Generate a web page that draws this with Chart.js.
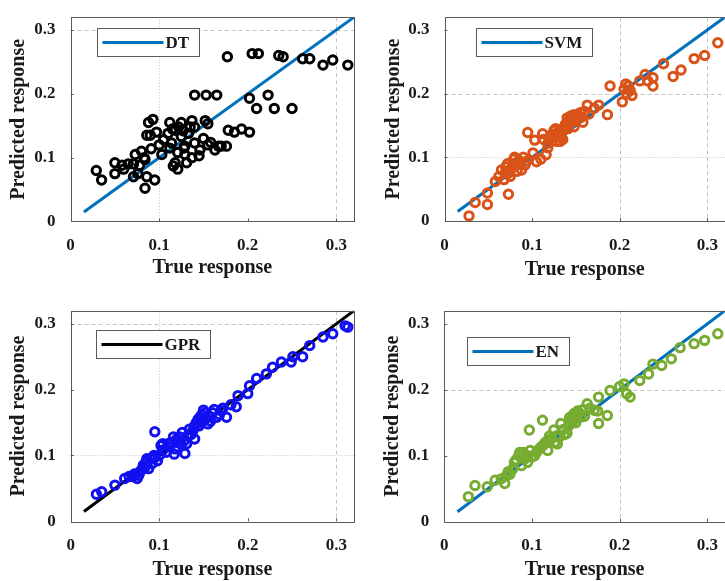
<!DOCTYPE html>
<html>
<head>
<title>True vs predicted response</title>
<script src="https://cdn.jsdelivr.net/npm/chart.js"></script>
<style>
    body {margin: 0; width: 725px; height: 581px; overflow: hidden; background: #fff; position: relative;}
    canvas {position: absolute;}
</style>
</head>
<body>
<canvas id="dt"  width="362" height="290" style="left:0px;top:0px"></canvas>
<canvas id="svm" width="370" height="290" style="left:362px;top:0px"></canvas>
<canvas id="gpr" width="362" height="291" style="left:0px;top:290px"></canvas>
<canvas id="en"  width="370" height="291" style="left:362px;top:290px"></canvas>

<script>
// tick values / labels shared by both axes of every panel
var tickValues = [0, 0.1, 0.2, 0.3];
var tickLabels = ['0', '0.1', '0.2', '0.3'];

// reference line (perfect prediction)
var diagX = [0.015, 0.32];
var diagY = [0.015, 0.32];

// DT
var dtTrue = [0.177,0.205,0.212,0.235,0.240,0.262,0.270,0.285,0.296,0.313,
    0.140,0.153,0.165,0.202,0.223,0.210,0.230,0.250,
    0.178,0.185,0.193,0.202,0.176,
    0.088,0.093,0.112,0.125,0.137,0.152,0.155,0.122,0.140,
    0.086,0.097,0.110,0.118,0.125,0.133,
    0.114,0.129,0.140,0.146,0.155,0.163,0.170,
    0.121,0.129,0.118,0.137,0.121,0.080,0.091,0.103,0.073,
    0.029,0.035,0.050,0.058,0.050,0.071,0.078,0.084,0.071,0.076,0.084,0.095,0.086,0.116,0.131,
    0.105,0.115,0.127,0.135,0.158,0.145,0.112,0.100,0.060,0.065,0.083,0.090,0.128,0.150,0.167];
var dtPred = [0.258,0.263,0.263,0.260,0.258,0.255,0.255,0.245,0.253,0.245,
    0.198,0.198,0.198,0.193,0.198,0.177,0.177,0.177,
    0.143,0.140,0.145,0.140,0.118,
    0.155,0.160,0.155,0.155,0.158,0.158,0.153,0.148,0.148,
    0.135,0.140,0.138,0.143,0.133,0.138,
    0.123,0.118,0.123,0.112,0.120,0.112,0.118,
    0.108,0.105,0.092,0.100,0.082,0.110,0.114,0.105,0.105,
    0.080,0.065,0.092,0.088,0.075,0.090,0.088,0.097,0.070,0.075,0.052,0.065,0.070,0.087,0.092,
    0.128,0.145,0.142,0.148,0.124,0.103,0.115,0.120,0.082,0.090,0.100,0.135,0.115,0.130,0.118];

// SVM
var svmTrue = [0.028,0.035,0.049,0.049,0.058,0.073,
    0.065,0.070,0.073,0.078,0.080,0.085,0.088,0.090,0.075,0.083,0.068,0.092,
    0.070,0.077,0.082,0.086,0.079,0.072,0.094,0.062,
    0.095,0.101,0.110,0.116,0.105,
    0.103,0.112,0.118,0.125,0.133,0.137,0.140,0.148,0.154,0.163,0.171,0.186,0.176,
    0.120,0.128,0.130,0.135,0.140,0.145,0.150,0.155,0.158,0.143,0.148,0.152,
    0.122,0.126,0.131,0.136,0.141,0.146,0.151,0.156,0.144,0.138,0.127,0.132,0.118,0.113,0.160,0.165,
    0.189,0.203,0.205,0.210,0.214,0.208,0.207,0.212,0.232,
    0.223,0.229,0.238,0.238,0.250,0.261,0.270,0.285,0.297,0.312];
var svmPred = [0.008,0.029,0.026,0.044,0.062,0.042,
    0.080,0.085,0.075,0.090,0.100,0.095,0.080,0.100,0.070,0.078,0.065,0.088,
    0.078,0.083,0.088,0.092,0.097,0.090,0.094,0.070,
    0.139,0.107,0.097,0.104,0.093,
    0.127,0.137,0.122,0.142,0.132,0.147,0.162,0.167,0.162,0.182,0.177,0.167,0.182,
    0.130,0.125,0.140,0.128,0.150,0.155,0.158,0.170,0.155,0.160,0.148,0.165,
    0.135,0.132,0.136,0.142,0.145,0.158,0.162,0.163,0.165,0.152,0.145,0.125,0.115,0.128,0.172,0.168,
    0.212,0.187,0.207,0.212,0.197,0.200,0.215,0.205,0.220,
    0.220,0.230,0.212,0.225,0.247,0.227,0.237,0.255,0.260,0.280];

// GPR
var gprTrue = [0.029,0.035,0.050,0.061,0.070,0.075,0.078,0.082,0.085,0.090,0.095,0.088,0.098,0.072,
    0.095,
    0.104,0.112,0.116,0.123,0.131,0.129,0.108,0.120,0.126,0.134,0.118,
    0.138,0.146,0.150,0.155,0.165,0.176,0.187,0.142,0.148,0.152,0.160,0.170,0.145,
    0.080,0.084,0.092,0.086,0.094,0.100,0.104,0.110,0.114,0.120,0.124,0.128,0.132,0.136,0.140,
    0.144,0.148,0.152,0.156,0.158,0.162,0.168,0.172,0.181,0.077,0.066,0.102,0.117,0.140,
    0.189,0.200,0.202,0.210,0.221,0.228,0.238,0.249,0.251,0.262,0.270,0.285,0.296,0.313,0.310];
var gprPred = [0.041,0.045,0.055,0.065,0.068,0.065,0.075,0.085,0.090,0.095,0.097,0.080,0.092,0.072,
    0.136,
    0.118,0.113,0.128,0.128,0.118,0.103,0.105,0.120,0.135,0.140,0.110,
    0.138,0.158,0.169,0.148,0.158,0.158,0.174,0.150,0.162,0.155,0.165,0.168,0.145,
    0.078,0.082,0.088,0.095,0.100,0.100,0.108,0.118,0.120,0.125,0.118,0.122,0.130,0.132,0.145,
    0.155,0.150,0.165,0.160,0.152,0.170,0.162,0.172,0.177,0.070,0.068,0.115,0.102,0.125,
    0.191,0.194,0.206,0.217,0.224,0.234,0.242,0.242,0.250,0.250,0.267,0.280,0.285,0.295,0.297];

// EN
var enTrue = [0.0275,0.035,0.049,0.058,0.069,0.073,0.080,0.085,0.090,0.095,0.100,0.088,0.078,0.065,0.103,
    0.097,0.112,
    0.110,0.118,0.125,0.129,0.133,0.140,0.120,0.115,0.128,
    0.148,0.156,0.163,0.171,0.176,0.186,0.176,0.145,0.152,0.160,0.150,
    0.082,0.086,0.092,0.098,0.105,0.108,0.113,0.122,0.126,0.131,0.136,0.142,0.146,0.149,0.154,
    0.158,0.143,0.137,0.166,0.175,0.118,0.075,0.071,0.095,
    0.189,0.205,0.208,0.212,0.200,
    0.223,0.233,0.238,0.248,0.259,0.269,0.285,0.297,0.312];
var enPred = [0.038,0.055,0.053,0.063,0.058,0.076,0.090,0.100,0.105,0.100,0.098,0.085,0.080,0.065,0.100,
    0.139,0.154,
    0.113,0.123,0.139,0.118,0.149,0.134,0.130,0.120,0.130,
    0.164,0.159,0.179,0.169,0.149,0.161,0.189,0.155,0.168,0.160,0.150,
    0.094,0.105,0.095,0.108,0.105,0.110,0.116,0.126,0.120,0.128,0.140,0.145,0.150,0.160,0.165,
    0.170,0.158,0.132,0.172,0.168,0.108,0.072,0.070,0.090,
    0.199,0.209,0.194,0.189,0.205,
    0.214,0.224,0.239,0.237,0.247,0.264,0.270,0.275,0.285];

function pts(xs, ys) {
    return xs.map(function(x, i) { return {x: x, y: ys[i]}; });
}

var FONT = '"Liberation Serif", "Times New Roman", serif';
var TEXT = '#1a1a1a';

// axes box, light grid lines, inward ticks and the boxed legend (MATLAB look)
var framePlugin = {
    id: 'frame',
    beforeDatasetsDraw: function(chart, args, o) {
        var ctx = chart.ctx, a = chart.chartArea;
        var sx = chart.scales.x, sy = chart.scales.y;
        ctx.save();
        ctx.strokeStyle = '#c4c4c4';
        ctx.lineWidth = 1;
        o.gridX.forEach(function(v) {
            var px = Math.round(sx.getPixelForValue(v)) + 0.5;
            ctx.setLineDash(v < 0.15 ? [1, 2] : [4, 3]);
            ctx.beginPath(); ctx.moveTo(px, a.top); ctx.lineTo(px, a.bottom); ctx.stroke();
        });
        o.gridY.forEach(function(v) {
            var py = Math.round(sy.getPixelForValue(v)) + 0.5;
            ctx.setLineDash(v < 0.15 ? [1, 2] : [4, 3]);
            ctx.beginPath(); ctx.moveTo(a.left, py); ctx.lineTo(a.right, py); ctx.stroke();
        });
        ctx.restore();
    },
    afterDatasetsDraw: function(chart, args, o) {
        var ctx = chart.ctx, a = chart.chartArea;
        var sx = chart.scales.x, sy = chart.scales.y;
        ctx.save();
        ctx.setLineDash([]);
        ctx.strokeStyle = '#5a5a5a';
        ctx.lineWidth = 1;
        ctx.strokeRect(Math.round(a.left) + 0.5, Math.round(a.top) + 0.5,
                       Math.round(a.right - a.left), Math.round(a.bottom - a.top));
        // small inward ticks
        ctx.beginPath();
        tickValues.slice(1).forEach(function(v) {
            var px = Math.round(sx.getPixelForValue(v)) + 0.5;
            ctx.moveTo(px, a.bottom); ctx.lineTo(px, a.bottom - 3);
            var py = Math.round(sy.getPixelForValue(v)) + 0.5;
            ctx.moveTo(a.left, py); ctx.lineTo(a.left + 3, py);
        });
        ctx.stroke();

        // legend
        var lg = o.legend;
        var x0 = Math.round(a.left + lg.dx) + 0.5, y0 = Math.round(a.top + lg.dy) + 0.5;
        ctx.font = 'bold 17px ' + FONT;
        var tw = ctx.measureText(lg.label).width;
        var w = Math.round(68 + tw + 10), h = 28;
        ctx.fillStyle = '#fff';
        ctx.fillRect(x0, y0, w, h);
        ctx.strokeStyle = '#5a5a5a';
        ctx.strokeRect(x0, y0, w, h);
        ctx.strokeStyle = lg.color;
        ctx.lineWidth = 3;
        ctx.beginPath(); ctx.moveTo(x0 + 5, y0 + h / 2); ctx.lineTo(x0 + 66, y0 + h / 2); ctx.stroke();
        ctx.fillStyle = TEXT;
        ctx.textBaseline = 'middle';
        ctx.fillText(lg.label, x0 + 68, y0 + h / 2 + 1);
        ctx.restore();
    }
};

function fixTicks(scale) {
    scale.ticks = tickValues.map(function(v) { return {value: v}; });
}

function panel(id, p) {
    var ctx = document.getElementById(id).getContext('2d');
    var tickFont = {family: FONT, size: 17, weight: 'bold'};
    var titleFont = {family: FONT, size: 20, weight: 'bold', lineHeight: 1};
    return new Chart(ctx, {
        type: 'scatter',
        data: {
            datasets: [
                {
                    label: p.name + ' points',
                    data: pts(p.xs, p.ys),
                    pointStyle: 'circle',
                    pointRadius: 4.2,
                    borderWidth: 3,
                    borderColor: p.color,
                    backgroundColor: 'rgba(0,0,0,0)',
                    order: 0
                },
                {
                    type: 'line',
                    label: p.name,
                    data: pts(diagX, diagY),
                    borderColor: p.lineColor,
                    borderWidth: 3,
                    pointRadius: 0,
                    fill: false,
                    order: 1
                }
            ]
        },
        options: {
            responsive: false,
            animation: false,
            layout: {padding: {top: p.top, right: p.right, left: 0, bottom: 0}},
            plugins: {
                legend: {display: false},
                tooltip: {enabled: false},
                frame: {
                    gridX: p.gridX, gridY: p.gridY,
                    legend: {dx: p.lgx, dy: p.lgy, label: p.name, color: p.lineColor}
                }
            },
            scales: {
                x: {
                    type: 'linear', min: 0, max: 0.32,
                    grid: {display: false}, border: {display: false},
                    afterBuildTicks: fixTicks,
                    afterFit: function(s) { s.height = p.xh; },
                    ticks: {
                        padding: 6, color: TEXT, font: tickFont, maxRotation: 0,
                        callback: function(v, i) { return tickLabels[i]; }
                    },
                    title: {display: true, text: 'True response', color: TEXT, font: titleFont,
                            padding: {top: 0, bottom: p.xtp}}
                },
                y: {
                    type: 'linear', min: 0, max: 0.32,
                    grid: {display: false}, border: {display: false},
                    afterBuildTicks: fixTicks,
                    afterFit: function(s) { s.width = p.yw; },
                    ticks: {
                        padding: 7, color: TEXT, font: tickFont,
                        callback: function(v, i) { return tickLabels[i]; }
                    },
                    title: {display: true, text: 'Predicted response', color: TEXT, font: titleFont,
                            padding: {top: p.ytp, bottom: 0}}
                }
            }
        },
        plugins: [framePlugin]
    });
}

panel('dt', {name: 'DT', xs: dtTrue, ys: dtPred, color: '#000000', lineColor: '#0072BD',
    top: 7, right: 8, yw: 70.6, xh: 68.5, ytp: 9, xtp: 12,
    gridX: [0.1, 0.3], gridY: [0.3], lgx: 26, lgy: 11});
panel('svm', {name: 'SVM', xs: svmTrue, ys: svmPred, color: '#D95319', lineColor: '#0072BD',
    top: 8.3, right: 4, yw: 82.5, xh: 69, ytp: 21.5, xtp: 10,
    gridX: [0.2, 0.3], gridY: [0.1, 0.2], lgx: 31, lgy: 11});
panel('gpr', {name: 'GPR', xs: gprTrue, ys: gprPred, color: '#1010F0', lineColor: '#000000',
    top: 20.7, right: 8, yw: 70.7, xh: 59.7, ytp: 9, xtp: 1,
    gridX: [0.1, 0.3], gridY: [0.1, 0.3], lgx: 25, lgy: 19});
panel('en', {name: 'EN', xs: enTrue, ys: enPred, color: '#77AC30', lineColor: '#0072BD',
    top: 20.7, right: 4.3, yw: 82.3, xh: 59.3, ytp: 21, xtp: 1,
    gridX: [0.2], gridY: [0.2], lgx: 23, lgy: 26});
</script>
</body>
</html>
